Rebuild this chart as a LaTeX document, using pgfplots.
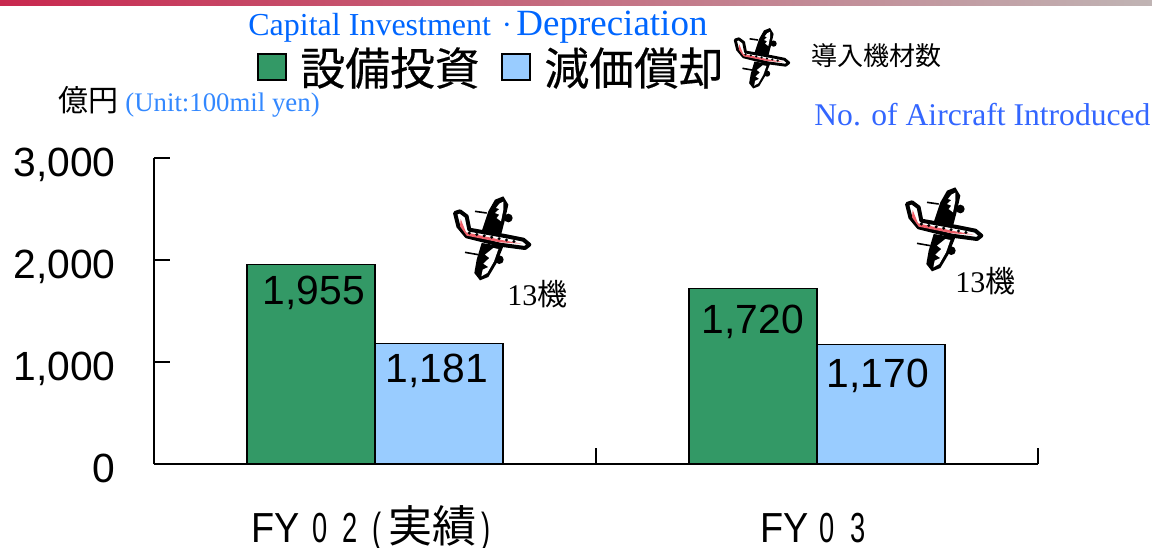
\documentclass[border=0pt]{standalone}
\usepackage{fontspec}
\usepackage{pgfplots}
\pgfplotsset{compat=1.18}
\setmainfont{Liberation Sans}
\newfontfamily\serif{Liberation Serif}
\newfontfamily\cjk[FakeBold=0.4]{Noto Sans CJK JP}
\newfontfamily\cjklight{Noto Sans CJK JP}
\newfontfamily\nar[FakeStretch=0.65]{Liberation Sans}
\newfontfamily\narb[FakeStretch=0.9]{Liberation Sans}
\definecolor{invest}{HTML}{339966}
\definecolor{deprec}{HTML}{99CCFF}
\definecolor{bluetxt}{HTML}{0066FF}
\definecolor{bluetxtb}{HTML}{3366FF}
\definecolor{unitblue}{HTML}{3388FF}
\definecolor{topl}{HTML}{C8284F}
\definecolor{topr}{HTML}{C0B4B4}
\definecolor{stripe}{HTML}{F0606A}
\newcommand{\fs}[1]{\fontsize{#1}{#1}\selectfont}

% clipart plane, drawn in zoom pixels around its centre
\newcommand{\plane}[3]{%
\begin{scope}[shift={(#1,#2)},scale=#3/3,shift={(-165,-145)}]
  \draw[line width=0.8pt] (105,65)--(140,70) (75,188)--(115,195);
  \fill (205,85) circle (13) (178,210) circle (13);
  \fill (125,125)--(145,65)--(165,30)--(190,20)--(205,45)--(195,90)--(182,140)--cycle;
  \fill[white] (178,42)--(190,36)--(190,60)--(183,95)--(170,85)--(178,75)--(165,70)--(178,58)--(168,55)--cycle;
  \fill (125,160)--(190,170)--(170,220)--(145,262)--(120,272)--(103,250)--(110,210)--cycle;
  \fill[white] (160,175)--(175,178)--(162,215)--(142,250)--(124,260)--(128,240)--(145,232)--(130,222)--(148,205)--(135,195)--cycle;
  \draw[line width={2*#3 pt},fill=white,line join=round] (45,70)--(60,65)--(80,80)--(88,120)--(200,140)--(250,150)--(268,165)--(255,175)--(180,165)--(80,140)--(55,110)--cycle;
  \fill[stripe] (62,88)--(78,128)--(180,150)--(245,162)--(180,158)--(80,138)--(60,110)--cycle;
  \foreach \i in {0,...,6} \fill ({88+\i*22.3},{130+\i*4.2}) circle (5);
\end{scope}}

\begin{document}
\begin{tikzpicture}[x=0.5pt,y=-0.5pt]
\path[use as bounding box] (0,0) rectangle (1152,547);
\shade[left color=topl,right color=topr,draw=none] (0,0) rectangle (1152,5);

\begin{axis}[
    at={(77pt,-232pt)}, anchor=south west,
    scale only axis,
    width=442pt, height=153pt,
    xmin=-0.5, xmax=1.5,
    ymin=0, ymax=3000,
    axis x line=bottom, axis y line=left,
    axis line style={-, line width=0.7pt},
    tick style={black, line width=0.7pt},
    tick align=inside,
    major tick length=8pt,
    ytick={0,1000,2000,3000},
    xtick={-0.5,0.5,1.5},
    x tick label as interval,
    xticklabels={
      {{\narb FY}\kern6.5pt{\nar 0}\kern7pt{\nar 2}\kern7.5pt{\nar (}\kern3.5pt{\cjklight\fs{22}\smash{実績}}\kern2.5pt{\nar )}},
      {{\narb FY}\kern5.5pt{\nar 0}\kern7.5pt{\nar 3}}},
    xticklabel style={font=\fs{21}, text height=15pt, text depth=3pt, yshift=-20.5pt, xshift=-2pt},
    yticklabel style={font=\fs{20.4}, text height=14.6pt, text depth=0pt, xshift=-19pt, yshift=-1.75pt, inner sep=0pt,
      /pgf/number format/1000 sep={,},
      /pgf/number format/assume math mode=true},
    scaled ticks=false,
    clip=false,
]
\addplot[ybar, bar shift=-32pt, bar width=64pt, draw=black, line width=0.7pt, fill=invest]
  coordinates {(0,1955) (1,1720)};
\addplot[ybar, bar shift=32pt, bar width=64pt, draw=black, line width=0.7pt, fill=deprec]
  coordinates {(0,1181) (1,1170)};
\node[font=\fs{20.4}] at (axis cs:-0.138,1680) {1,955};
\node[font=\fs{20.4}] at (axis cs:0.14,910) {1,181};
\node[font=\fs{20.4}] at (axis cs:0.855,1390) {1,720};
\node[font=\fs{20.4}] at (axis cs:1.138,860) {1,170};
\end{axis}

% header
\node[anchor=base west,inner sep=0pt,text=bluetxt,font=\serif\fs{16}] at (248,35) {Capital Investment};
\node[anchor=base west,inner sep=0pt,text=bluetxt,font=\serif\bfseries\fs{16}] at (502,33) {$\cdot$};
\node[anchor=base west,inner sep=0pt,text=bluetxt,font=\serif\fs{18.5}] at (516,35) {Depreciation};
\draw[fill=invest,line width=1.1pt] (258,54) rectangle (286,80);
\draw[fill=deprec,line width=1.1pt] (502,54) rectangle (530,80);
\node[anchor=west,inner sep=0pt,font=\cjk\fs{22.4}] at (300,68) {設備投資};
\node[anchor=west,inner sep=0pt,font=\cjk\fs{22.4}] at (544,68) {減価償却};
\plane{764}{58}{0.72}
\node[anchor=west,inner sep=0pt,font=\cjklight\fs{13}] at (811,56) {導入機材数};
\node[anchor=west,inner sep=0pt,font=\cjklight\fs{15}] at (58,100) {億円};
\node[anchor=base west,inner sep=0pt,text=unitblue,font=\serif\fs{13.4}] at (125,111) {(Unit:100mil yen)};
\node[anchor=base west,inner sep=0pt,text=bluetxtb,font=\serif\fs{15.8}] at (814,125) {No. of Aircraft Introduced};

% planes with counts
\plane{495}{238}{1}
\plane{947}{229}{1}
\node[anchor=base west,inner sep=0pt,font=\serif\fs{15}] at (507,305) {13{\cjklight 機}};
\node[anchor=base west,inner sep=0pt,font=\serif\fs{15}] at (955,292) {13{\cjklight 機}};
\end{tikzpicture}
\end{document}
